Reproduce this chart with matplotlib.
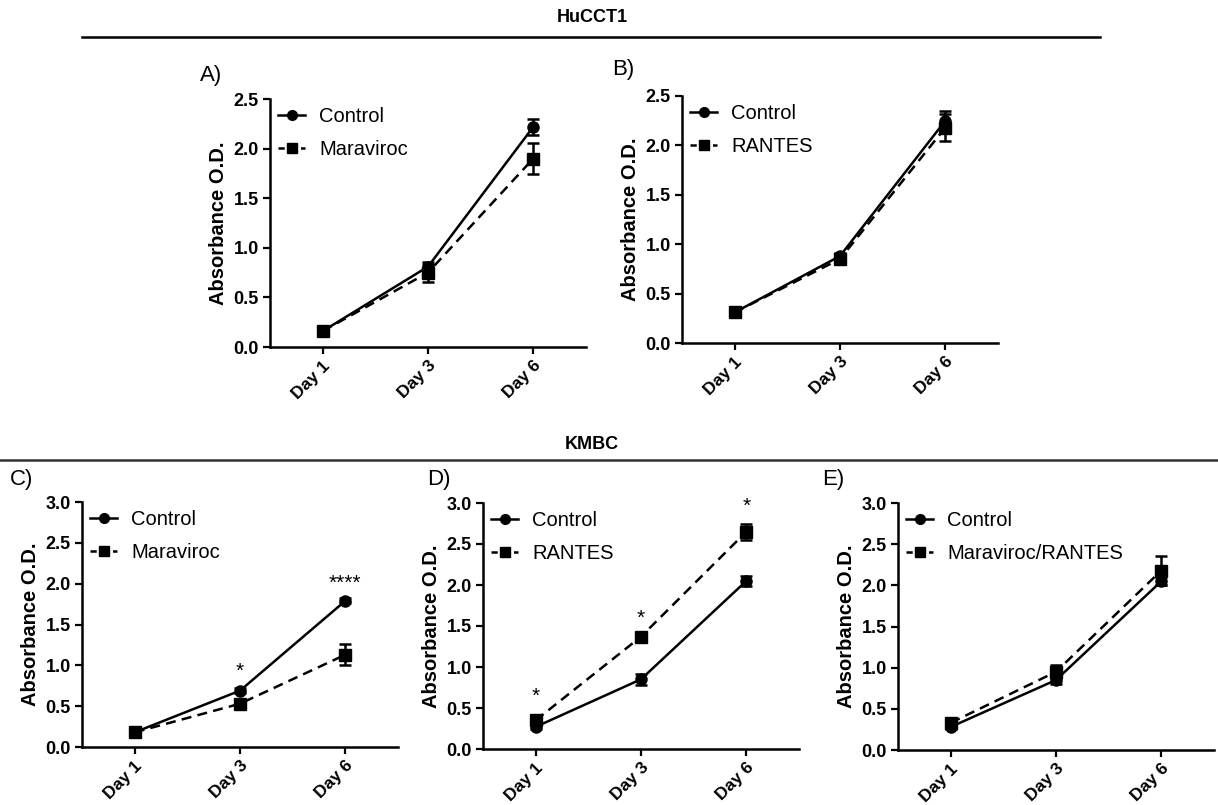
import matplotlib
matplotlib.use("Agg")
import matplotlib.pyplot as plt
from matplotlib.lines import Line2D

plt.rcParams['font.family'] = ['Liberation Sans', 'DejaVu Sans']

days = ["Day 1", "Day 3", "Day 6"]

# Panel A (HuCCT1)
A_ctrl = [0.16, 0.81, 2.22]
A_ctrl_err = [0.02, 0.05, 0.08]
A_trt = [0.16, 0.75, 1.90]
A_trt_err = [0.02, 0.09, 0.16]
# Panel B (HuCCT1)
B_ctrl = [0.31, 0.88, 2.25]
B_ctrl_err = [0.02, 0.03, 0.10]
B_trt = [0.31, 0.85, 2.18]
B_trt_err = [0.02, 0.03, 0.14]
# Panel C (KMBC)
C_ctrl = [0.18, 0.69, 1.79]
C_ctrl_err = [0.02, 0.03, 0.03]
C_trt = [0.18, 0.53, 1.13]
C_trt_err = [0.03, 0.05, 0.13]
# Panel D (KMBC)
D_ctrl = [0.27, 0.85, 2.05]
D_ctrl_err = [0.03, 0.07, 0.06]
D_trt = [0.35, 1.37, 2.65]
D_trt_err = [0.05, 0.04, 0.10]
# Panel E (KMBC)
E_ctrl = [0.28, 0.85, 2.05]
E_ctrl_err = [0.03, 0.05, 0.05]
E_trt = [0.33, 0.95, 2.18]
E_trt_err = [0.05, 0.08, 0.18]

C_stars = ["", "*", "****"]
C_star_y = [None, 0.93, 2.0]
D_stars = ["*", "*", "*"]
D_star_y = [0.64, 1.59, 2.96]

W, H = 1218, 805
fig = plt.figure(figsize=(W / 100, H / 100), dpi=100)

def rect(l, r, t, b):
    return [l / W, 1 - b / H, (r - l) / W, (b - t) / H]

panels = [
    ("A)", rect(270, 586, 99, 347), 2.5, A_ctrl, A_ctrl_err, A_trt, A_trt_err, "Maraviroc", None, None, (200, 76)),
    ("B)", rect(682, 998, 96, 343), 2.5, B_ctrl, B_ctrl_err, B_trt, B_trt_err, "RANTES", None, None, (612, 70)),
    ("C)", rect(82, 398, 502, 747), 3.0, C_ctrl, C_ctrl_err, C_trt, C_trt_err, "Maraviroc", C_stars, C_star_y, (10, 479)),
    ("D)", rect(483, 799, 503, 749), 3.0, D_ctrl, D_ctrl_err, D_trt, D_trt_err, "RANTES", D_stars, D_star_y, (427, 479)),
    ("E)", rect(898, 1214, 503, 750), 3.0, E_ctrl, E_ctrl_err, E_trt, E_trt_err, "Maraviroc/RANTES", None, None, (822, 479)),
]

x = list(range(len(days)))
for lab, pos, ymax, c, ce, t, te, tname, stars, stary, labpos in panels:
    ax = fig.add_axes(pos)
    ax.errorbar(x, c, yerr=ce, color='black', lw=1.8, marker='o', ms=8,
                capsize=4, capthick=1.8, elinewidth=1.8, zorder=3)
    ax.errorbar(x, t, yerr=te, color='black', lw=1.8, marker='s', ms=8,
                capsize=4, capthick=1.8, elinewidth=1.8, dashes=(4, 2.5), zorder=3)
    ax.set_xlim(-0.5, 2.5)
    ax.set_ylim(0, ymax)
    n = int(round(ymax / 0.5)) + 1
    ax.set_yticks([i * 0.5 for i in range(n)])
    ax.set_yticklabels([f"{i * 0.5:.1f}" for i in range(n)],
                       fontsize=13, fontweight='bold')
    ax.set_xticks(x)
    ax.set_xticklabels(days, rotation=45, ha='right', rotation_mode='anchor',
                       fontsize=12.5, fontweight='bold')
    ax.tick_params(width=1.6, length=5, direction='out', pad=3)
    for s in ['top', 'right']:
        ax.spines[s].set_visible(False)
    for s in ['left', 'bottom']:
        ax.spines[s].set_linewidth(1.8)
    ax.set_ylabel("Absorbance O.D.", fontsize=14.5, fontweight='bold', labelpad=4)
    handles = [Line2D([], [], color='black', lw=1.8, marker='o', ms=7),
               Line2D([], [], color='black', lw=1.8, marker='s', ms=7, dashes=(2.5, 2))]
    ax.legend(handles, ["Control", tname], loc='upper left', frameon=False,
              fontsize=14.5, handlelength=1.35, handletextpad=0.7,
              borderaxespad=0.0, bbox_to_anchor=(0.0, 1.0), labelspacing=0.7)
    if stars:
        for xi, s, yv in zip(x, stars, stary):
            if s:
                ax.text(xi, yv, s, ha='center', va='center', fontsize=15)
    fig.text(labpos[0] / W, 1 - labpos[1] / H, lab, fontsize=16, ha='left', va='center')

# Group headers
hdr_font = ['Liberation Sans Narrow', 'Liberation Sans', 'DejaVu Sans']
fig.text(592 / W, 1 - 18 / H, "HuCCT1", fontsize=13, fontweight='bold', ha='center', va='center',
         family=hdr_font)
fig.add_artist(Line2D([82 / W, 1100 / W], [1 - 37 / H, 1 - 37 / H], color='black', lw=1.8))
fig.text(592 / W, 1 - 444 / H, "KMBC", fontsize=13, fontweight='bold', ha='center', va='center',
         family=hdr_font)
fig.add_artist(Line2D([0, 1], [1 - 460 / H, 1 - 460 / H], color='#333333', lw=1.8))

fig.savefig("out.png", dpi=100)
